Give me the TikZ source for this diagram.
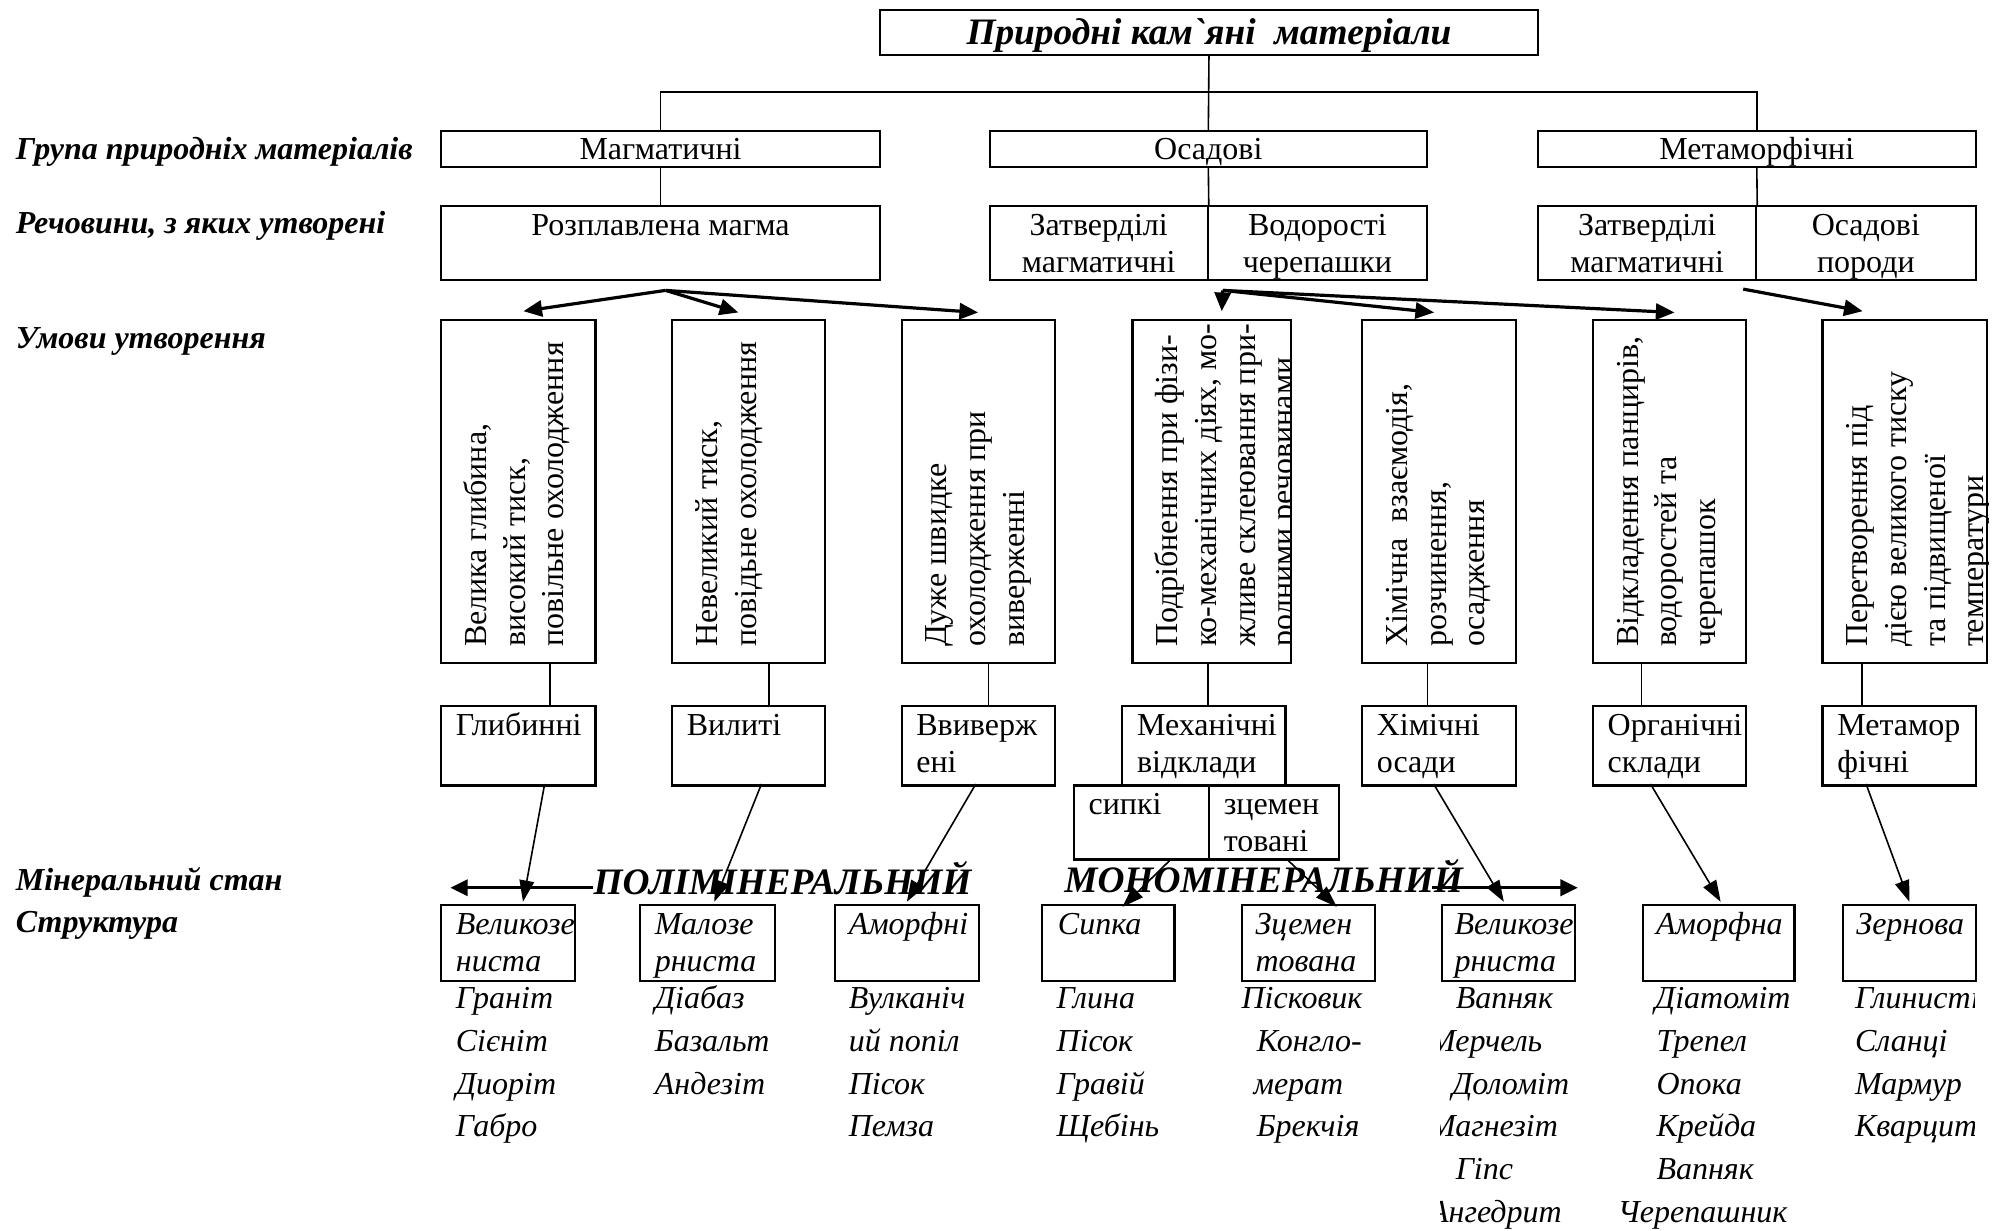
\documentclass[tikz,border=0pt]{standalone}
\usepackage{fontspec}
\setmainfont{Liberation Serif}
\usetikzlibrary{arrows.meta,calc}

% strut for the first line of a text block
\newcommand\fst{\rule{0pt}{11pt}}

\begin{document}
\begin{tikzpicture}[
    x=0.4783pt, y=-0.4783pt,
    box/.style={draw, line width=0.8pt, rectangle, inner sep=0pt, anchor=north west},
    sz/.style 2 args={minimum width=#1*0.4783pt, minimum height=#2*0.4783pt},
    boxtxt/.style={font=\fontsize{12}{14}\selectfont, align=center, text height=8.1pt, text depth=0pt},
    intxt/.style={anchor=north west, inner sep=0pt, align=left, font=\fontsize{12}{14}\selectfont},
    ittxt/.style={intxt, font=\fontsize{12}{14}\selectfont\itshape},
    listtxt/.style={intxt, font=\fontsize{12}{16.1}\selectfont\itshape},
    rottxt/.style={intxt, rotate=90, font=\fontsize{12}{14.5}\selectfont},
    lbl/.style={anchor=base west, inner sep=0pt, font=\fontsize{12}{14}\selectfont\bfseries\itshape},
    bigtxt/.style={anchor=base west, inner sep=0pt, font=\fontsize{14}{16}\selectfont\bfseries\itshape},
    line/.style={line width=0.6pt},
    farr/.style={-{Triangle[length=7pt,width=6pt]}, line width=1.2pt},
    darr/.style={-{Triangle[length=8pt,width=5.5pt]}, line width=0.6pt},
    harr/.style={-{Triangle[length=6.5pt,width=6pt]}, line width=1.3pt}
]
\useasboundingbox (0,0) rectangle (1568,965.1);

% Title
\node[box, sz={516}{35}, boxtxt, font=\fontsize{14}{16}\selectfont\bfseries\itshape, text height=9pt] (title) at (689,7) {Природні кам{\addfontfeatures{Ligatures=TeXOff}`}яні~ матеріали};

% Row labels
\node[lbl] (lblGroup) at (12,125) {Група природніх матеріалів};
\node[lbl] (lblSubst) at (12,183) {Речовини, з яких утворені};
\node[lbl] (lblCond) at (12,273) {Умови утворення};
\node[lbl] (lblMin) at (12,698) {Мінеральний стан};
\node[lbl] (lblStr) at (12,731) {Структура};

% Groups
\node[box, sz={344}{28}, boxtxt] (magm) at (345,102) {Магматичні};
\node[box, sz={343}{28}, boxtxt] (osad) at (775,102) {Осадові};
\node[box, sz={343}{28}, boxtxt] (meta) at (1205,102) {Метаморфічні};

% Substances
\node[box, sz={344}{58}] (rozpl) at (345,161) {};
\node[intxt, anchor=north] (rozplT) at (rozpl.north) {\fst Розплавлена магма};
\node[box, sz={171}{58}] (osrL) at (775,161) {};
\node[box, sz={172}{58}] (osrR) at (946,161) {};
\node[box, sz={171}{58}] (merL) at (1205,161) {};
\node[box, sz={172}{58}] (merR) at (1376,161) {};
\node[intxt, anchor=north, align=center] (osrLT) at (osrL.north) {\fst Затверділі\\магматичні};
\node[intxt, anchor=north, align=center] (osrRT) at (osrR.north) {\fst Водорості\\черепашки};
\node[intxt, anchor=north, align=center] (merLT) at (merL.north) {\fst Затверділі\\магматичні};
\node[intxt, anchor=north, align=center] (merRT) at (merR.north) {\fst Осадові\\породи};

% Tree lines
\coordinate (branch) at (946,72);
\draw[line] (title.south) -- (osad.north);
\draw[line] (magm.north) -- (magm.north |- branch) -- (meta.north |- branch) -- (meta.north);
\draw[line] (magm.south) -- (rozpl.north);
\draw[line] (osad.south) -- (osrL.north east);
\draw[line] (meta.south) -- (merL.north east);

% Conditions
\foreach \n/\x/\w/\t in {
    1/345/121/{Велика глибина,\\високий тиск,\\повільне охолодження},
    2/526/120/{Невеликий тиск,\\повідьне охолодження},
    3/706/120/{Дуже швидке\\охолодження при\\виверженні},
    4/887/124/{Подрібнення при фізи-\\ко-механічних діях, мо-\\жливе склеювання при-\\родними речовинами},
    5/1067/121/{Хімічна~ взаємодія,\\розчинення,\\осадження},
    6/1248/120/{Відкладення панцирів,\\водоростей та\\черепашок},
    7/1428/129/{Перетворення під\\дією великого тиску\\та підвищеної\\температури}}
{
    \node[box, sz={\w}{269}] (cond\n) at (\x,250) {};
    \begin{scope}
        \clip (cond\n.south west) rectangle (cond\n.north east);
        \node[rottxt] (condT\n) at ($(cond\n.south west)+(13,-13)$) {\fst\t};
    \end{scope}
}

% Arrows to conditions
\coordinate (forkM) at ($(rozpl.south)+(4,7)$);
\coordinate (forkO) at ($(osrL.south east)+(11,7)$);
\coordinate (forkR) at ($(merL.south east)+(-11,6)$);
\foreach \c/\d in {cond1/{4,-6}, cond2/{-8,-5}, cond3/{0,-5}}
    \draw[farr] (forkM) -- ($(\c.north)+(\d)$);
\foreach \c/\d in {cond4/{8,-6}, cond5/{-4,-5}, cond6/{4,-5}}
    \draw[farr] (forkO) -- ($(\c.north)+(\d)$);
\draw[farr] (forkR) -- ($(cond7.north)+(-33,-6)$);

% Rock types
\foreach \n/\x/\w/\t in {1/345/121/Глибинні, 2/526/120/Вилиті, 3/706/120/{Ввиверж\\ені},
    4/879/128/{Механічні\\відклади}, 5/1067/121/{Хімічні\\осади},
    6/1248/120/{Органічні\\склади}, 7/1428/120/{Метамор\\фічні}}
{
    \node[box, sz={\w}{62}] (type\n) at (\x,553) {};
    \node[intxt] (typeT\n) at ($(type\n.north west)+(12,0)$) {\fst\t};
}
\node[box, sz={106}{58}] (sypki) at (841,615) {};
\node[box, sz={102}{58}] (zcem) at (947,615) {};
\node[intxt] (sypkiT) at ($(sypki.north west)+(12,0)$) {\fst сипкі};
\node[intxt] (zcemT) at ($(zcem.north west)+(12,0)$) {\fst зцемен\\товані};

% Lines from conditions to types
\foreach \n/\d in {1/86, 2/77, 3/69, 4/60, 5/52, 6/39, 7/32}
{
    \coordinate (cl\n) at ($(cond\n.south west)+(\d,0)$);
    \draw[line] (cl\n) -- (cl\n |- type\n.north);
}

% Structures
\foreach \n/\x/\w/\o/\t in {1/345/105/12/{Великозе\\ниста}, 2/501/106/12/{Малозе\\рниста},
    3/654/113/11/Аморфні, 4/816/104/13/Сипка, 5/973/104/11/{Зцемен\\тована},
    6/1130/104/10/{Великозе\\рниста}, 7/1287/119/11/Аморфна, 8/1444/104/11/Зернова}
{
    \node[box, sz={\w}{59}] (st\n) at (\x,709) {};
    \begin{scope}
        \clip (st\n.south west) rectangle (st\n.north east);
        \node[ittxt] (stT\n) at ($(st\n.north west)+(\o,0)$) {\fst\t};
    \end{scope}
}

% Mineral state
\node[bigtxt] (poly) at (465,701) {ПОЛІМІНЕРАЛЬНИЙ};
\node[bigtxt] (mono) at (834,700) {МОНОМІНЕРАЛЬНИЙ};
\coordinate (polyL) at (353,696);
\coordinate (monoR) at (1237,696);
\draw[harr] (poly.west |- polyL) -- (polyL);
\draw[harr] ($(mono.east |- monoR)+(-25,0)$) -- (monoR);

% Arrows to structures
\foreach \a/\da/\b/\db in {type1/{82,-2}/st1/{65,-2}, type2/{71,-2}/st2/{59,-2},
    type3/{59,-2}/st3/{57,-2}, type5/{57,-2}/st6/{49,-2},
    type6/{46,-2}/st7/{62,-2}, type7/{35,-2}/st8/{53,-2}}
    \draw[darr] ($(\a.south west)+(\da)$) -- ($(\b.north west)+(\db)$);
\draw[darr] ($(sypki.south west)+(76,0)$) -- ($(st4.north west)+(64,2)$);
\draw[darr] ($(zcem.south west)+(63,0)$) -- ($(st5.north west)+(75,2)$);

% Examples
\node[listtxt] (list1) at (357,767) {\fst Граніт\\Сієніт\\Диоріт\\Габро};
\node[listtxt] (list2) at (513,767) {\fst Діабаз\\Базальт\\Андезіт};
\node[listtxt] (list3) at (665,767) {\fst Вулканіч\\ий попіл\\Пісок\\Пемза};
\node[listtxt] (list4) at (828,767) {\fst Глина\\Пісок\\Гравій\\Щебінь};
\node[listtxt] (list5) at (973,767) {\fst Пісковик\\\hspace*{5.7pt}Конгло-\\\hspace*{4.5pt}мерат\\\hspace*{5.7pt}Брекчія};
\begin{scope}
    \clip (1129,760) rectangle (1262,966);
    \node[listtxt] (list6) at (1120,767) {\fst\hspace*{10pt}Вапняк\\Мерчель\\\hspace*{8.6pt}Доломіт\\Магнезіт\\\hspace*{10pt}Гіпс\\Ангедрит};
\end{scope}
\node[listtxt] (list7) at (1268,767) {\fst\hspace*{13.9pt}Діатоміт\\\hspace*{14.5pt}Трепел\\\hspace*{14.5pt}Опока\\\hspace*{14.5pt}Крейда\\\hspace*{14.5pt}Вапняк\\Черепашник};
\begin{scope}
    \clip (1440,760) rectangle (1548,966);
    \node[listtxt] (list8) at (1454,767) {\fst Глинисті\\Сланці\\Мармур\\Кварцит};
\end{scope}

\end{tikzpicture}
\end{document}
